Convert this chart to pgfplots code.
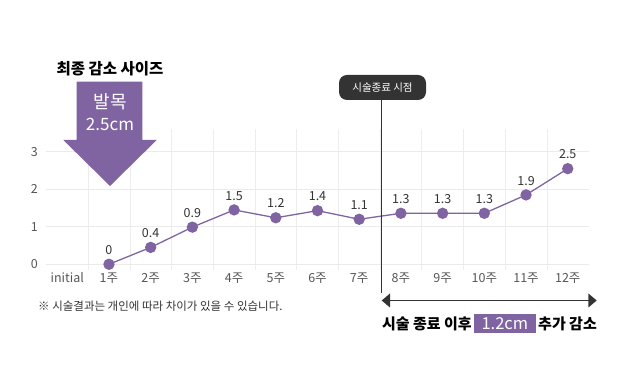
\documentclass[border=0pt]{standalone}
\usepackage{fontspec}
\setmainfont{Noto Sans CJK KR}
\usepackage{pgfplots}
\pgfplotsset{compat=1.18}
\definecolor{pur}{HTML}{8064A2}
\definecolor{dark}{HTML}{333333}
\definecolor{tickc}{HTML}{555555}
\pgfplotstableread{
x y lab
1 0 0
2 0.45 0.4
3 0.99 0.9
4 1.45 1.5
5 1.24 1.2
6 1.43 1.4
7 1.20 1.1
8 1.36 1.3
9 1.36 1.3
10 1.36 1.3
11 1.85 1.9
12 2.55 2.5
}\datatab
\begin{document}
\begin{tikzpicture}
\begin{axis}[
  anchor=south west, at={(0pt,0pt)}, scale only axis,
  width=542.2pt, height=140.6pt,
  xmin=-0.5, xmax=12.5, ymin=-0.15, ymax=3.6,
  axis line style={draw=none}, tick style={draw=none},
  xtick={0,...,12},
  xticklabels={initial,1주,2주,3주,4주,5주,6주,7주,8주,9주,10주,11주,12주},
  minor xtick={0.5,1.5,...,11.5}, xminorgrids,
  ytick={0,1,2,3}, ymajorgrids,
  major grid style={draw=black!8, line width=1.3pt},
  minor grid style={draw=black!7, line width=0.6pt},
  /pgf/number format/assume math mode=true,
  xticklabel style={font=\fontsize{12.5}{13}\selectfont, text=tickc, yshift=1pt},
  yticklabel style={font=\fontsize{12.5}{13}\selectfont, text=tickc, xshift=-5pt},
  clip=false,
]
\addplot[pur, line width=1.3pt, mark=*, mark size=5pt,
  mark options={solid, fill=pur, draw=none},
  nodes near coords, point meta=explicit symbolic,
  nodes near coords style={font=\fontsize{12.5}{13}\selectfont, text=dark, anchor=south, inner sep=0pt, yshift=9pt}]
  table[x=x, y=y, meta=lab] {\datatab};
\end{axis}
\begin{scope}[x=1pt, y=1pt, shift={(-46.4pt,269.9pt)}]
% top-left big arrow
\node[font=\bfseries\fontsize{15.5}{16}\selectfont, text=black] at (110,-69) {최종 감소 사이즈};
\fill[pur] (76.7,-81.7) -- (142.3,-81.7) -- (142.3,-140) -- (156.7,-140) -- (110,-186) -- (63.3,-140) -- (76.7,-140) -- cycle;
\node[font=\fontsize{18}{18}\selectfont, text=white] at (110,-101.7) {발목};
\node[font=\fontsize{17}{17}\selectfont, text=white] at (110,-124) {2.5cm};
% treatment end marker
\draw[dark, line width=1.2pt] (381.7,-100) -- (381.7,-293);
\fill[dark, rounded corners=8pt] (339,-75) rectangle (426,-100);
\node[font=\fontsize{10.5}{11}\selectfont, text=white] at (382.5,-87.5) {시술종료 시점};
% double arrow
\draw[dark, line width=1.3pt] (388,-300.5) -- (590,-300.5);
\fill[dark] (381.7,-300.5) -- (390,-293.5) -- (390,-307.5) -- cycle;
\fill[dark] (596.7,-300.5) -- (588.4,-293.5) -- (588.4,-307.5) -- cycle;
% footnote
\node[font=\fontsize{11.5}{12}\selectfont, text=dark, anchor=west, inner sep=0pt] at (38,-306.5) {※ 시술결과는 개인에 따라 차이가 있을 수 있습니다.};
% bottom caption
\fill[pur] (474,-314) rectangle (535.7,-333);
\node[font=\bfseries\fontsize{15}{15}\selectfont, text=black, anchor=east, inner sep=0pt] at (472,-324) {시술 종료 이후};
\node[font=\fontsize{16.5}{17}\selectfont, text=white] at (504.8,-323.5) {1.2cm};
\node[font=\bfseries\fontsize{15}{15}\selectfont, text=black, anchor=west, inner sep=0pt] at (538,-324) {추가 감소};
\pgfresetboundingbox
\useasboundingbox (0,0) rectangle (640,-379);
\end{scope}
\end{tikzpicture}
\end{document}
